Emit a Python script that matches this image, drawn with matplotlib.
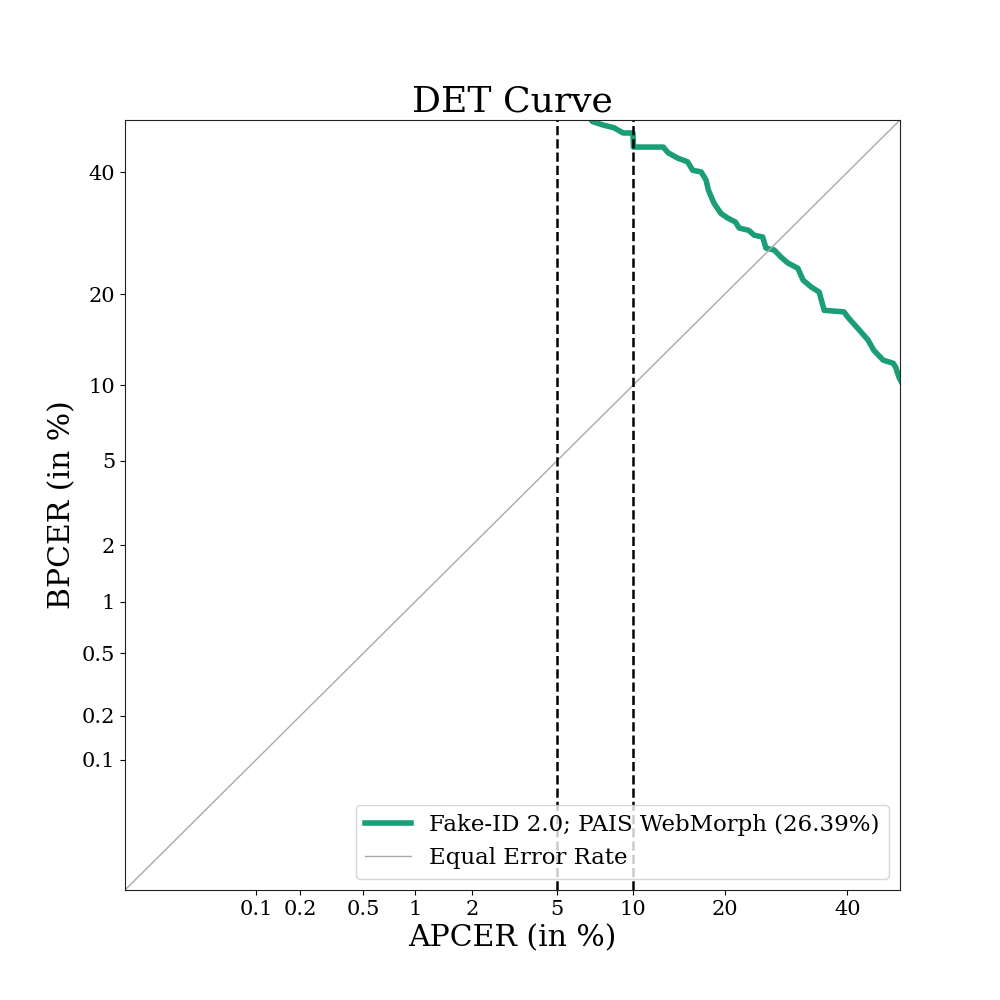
import numpy as np
import matplotlib
matplotlib.use("Agg")
import matplotlib.pyplot as plt
from statistics import NormalDist
import math

plt.rcParams['font.family'] = ['DejaVu Serif']

# Data (percent)
apcer = [6.5, 7.0, 7.75, 8.5, 9.2, 10.0, 10.05, 12.8, 13.3, 14.3, 15.4, 16.0, 17.0, 17.6,
         17.9, 18.6, 19.5, 20.4, 21.5, 22.0, 23.4, 24.2, 25.5, 26.0, 27.3, 28.4,
         29.5, 31.2, 32.1, 33.5, 34.9, 35.8, 39.4, 40.3, 42.0, 43.9, 45.0, 46.8,
         48.7, 49.2, 49.8, 50.5]
bpcer = [52.0, 49.7, 49.0, 48.5, 47.5, 47.5, 44.8, 44.8, 43.7, 42.7, 42.0, 40.4, 40.1, 38.6,
         36.7, 34.4, 32.6, 31.8, 31.1, 30.1, 29.7, 28.9, 28.6, 26.8, 26.5, 25.4,
         24.5, 23.7, 21.95, 21.0, 20.3, 17.9, 17.7, 16.9, 15.7, 14.4, 13.3, 12.3,
         12.0, 11.6, 10.7, 10.1]
curve_label = "Fake-ID 2.0; PAIS WebMorph (26.39%)"
eer_label = "Equal Error Rate"
ticks = [0.1, 0.2, 0.5, 1, 2, 5, 10, 20, 40]
tick_labels = ["0.1", "0.2", "0.5", "1", "2", "5", "10", "20", "40"]
thresholds = [5, 10]
lims = [0.01, 50]

_nd = NormalDist()
_ppf = np.vectorize(lambda p: _nd.inv_cdf(min(max(p, 1e-12), 1 - 1e-12)), otypes=[float])
_cdf = np.vectorize(lambda z: 0.5 * (1 + math.erf(z / math.sqrt(2))), otypes=[float])


def fwd(x):
    return _ppf(np.asarray(x, dtype=float) / 100.0)


def inv(z):
    return _cdf(np.asarray(z, dtype=float)) * 100.0


fig = plt.figure(figsize=(10, 10), dpi=100)
ax = fig.add_subplot(111)
ax.set_xscale('function', functions=(fwd, inv))
ax.set_yscale('function', functions=(fwd, inv))

ax.plot(apcer, bpcer, color='#1b9e77', linewidth=4, label=curve_label)
eer_line = np.array([0.001, 0.01, 0.1, 1, 5, 10, 20, 30, 40, 50, 60])
ax.plot(eer_line, eer_line, color='darkgray', linewidth=1, label=eer_label)
for t in thresholds:
    ax.axvline(t, color='black', linestyle='--', linewidth=1.8)

ax.set_xlim(lims)
ax.set_ylim(lims)
ax.set_xticks(ticks)
ax.set_xticklabels(tick_labels)
ax.set_yticks(ticks)
ax.set_yticklabels(tick_labels)
ax.minorticks_off()
ax.tick_params(labelsize=15)
for s in ax.spines.values():
    s.set_edgecolor('#222222')

ax.set_title("DET Curve", fontsize=26)
ax.set_xlabel("APCER (in %)", fontsize=21.5)
ax.set_ylabel("BPCER (in %)", fontsize=21.5)
ax.legend(loc='lower right', fontsize=16.5)

fig.savefig("out.png", dpi=100)
